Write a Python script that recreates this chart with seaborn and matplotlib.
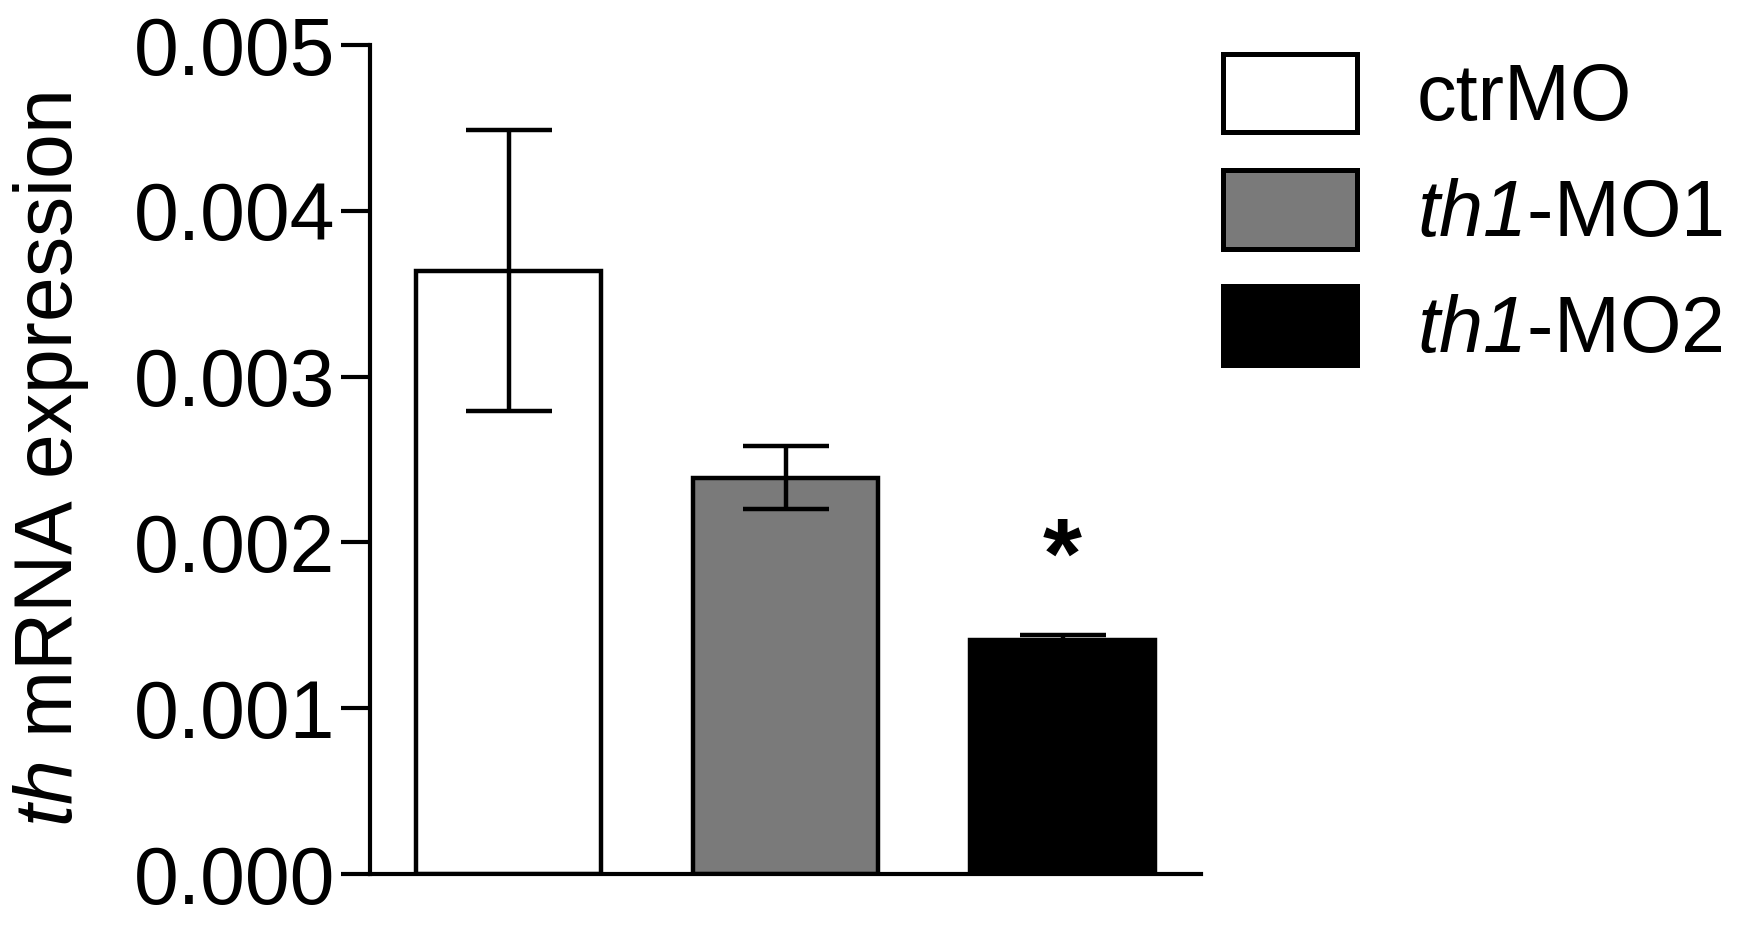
import matplotlib
matplotlib.use("Agg")
import matplotlib.pyplot as plt
import seaborn as sns
import pandas as pd
from matplotlib.ticker import FormatStrFormatter
from matplotlib.patches import Patch

groups = ["ctrMO", "th1-MO1", "th1-MO2"]
legend_labels = ["ctrMO", r"$\mathrm{th1}$-MO1", r"$\mathrm{th1}$-MO2"]
means = [0.00364, 0.00239, 0.00141]
errors = [0.00085, 0.00019, 0.00003]
colors = ["#ffffff", "#7a7a7a", "#000000"]
yticks = [0.000, 0.001, 0.002, 0.003, 0.004, 0.005]

sns.set_style("white")
plt.rcParams["font.family"] = ["Liberation Sans", "DejaVu Sans"]
plt.rcParams["mathtext.fontset"] = "custom"
# italic face used for the gene names (digits included)
plt.rcParams["mathtext.rm"] = "Liberation Sans:italic"
plt.rcParams["mathtext.it"] = "Liberation Sans:italic"
plt.rcParams["mathtext.bf"] = "Liberation Sans:bold"
for key in ["text.color", "axes.labelcolor", "xtick.color", "ytick.color",
            "axes.edgecolor"]:
    plt.rcParams[key] = "black"

df = pd.DataFrame({"group": groups, "value": means})

fig = plt.figure(figsize=(17.52, 9.25), dpi=100)
ax = fig.add_axes([0.2112, 0.0551, 0.4743, 0.8962])

sns.barplot(data=df, x="group", y="value", hue="group", palette=colors,
            order=groups, hue_order=groups, errorbar=None, width=0.67,
            edgecolor="black", linewidth=3.2, legend=False, ax=ax)

ax.errorbar(range(len(groups)), means, yerr=errors, fmt="none",
            ecolor="black", elinewidth=3.2, capsize=31, capthick=3.2, zorder=5)

ax.text(2, 0.00173, "*", ha="center", va="baseline", fontsize=72,
        fontweight="bold", color="black")

ax.set_xlim(-0.5, 2.5)
ax.set_ylim(0, 0.005)
ax.set_yticks(yticks)
ax.yaxis.set_major_formatter(FormatStrFormatter("%.3f"))
ax.set_xticks([])
ax.set_xlabel("")
ax.set_ylabel(r"$\mathrm{th}$ mRNA expression", fontsize=58, labelpad=31)
ax.tick_params(axis="y", direction="out", length=21, width=3.0,
               labelsize=58, pad=4, left=True, colors="black")
for side in ["top", "right"]:
    ax.spines[side].set_visible(False)
for side in ["left", "bottom"]:
    ax.spines[side].set_linewidth(3.0)
    ax.spines[side].set_color("black")

handles = [Patch(facecolor=c, edgecolor="black", linewidth=3.6) for c in colors]
fig.legend(handles, legend_labels, loc="upper left",
           bbox_to_anchor=(0.698, 0.942), frameon=False, fontsize=57,
           handlelength=1.7, handleheight=1.15, handletextpad=0.75,
           labelspacing=0.42, borderpad=0, borderaxespad=0)

fig.savefig("out.png", dpi=100, facecolor="white")
